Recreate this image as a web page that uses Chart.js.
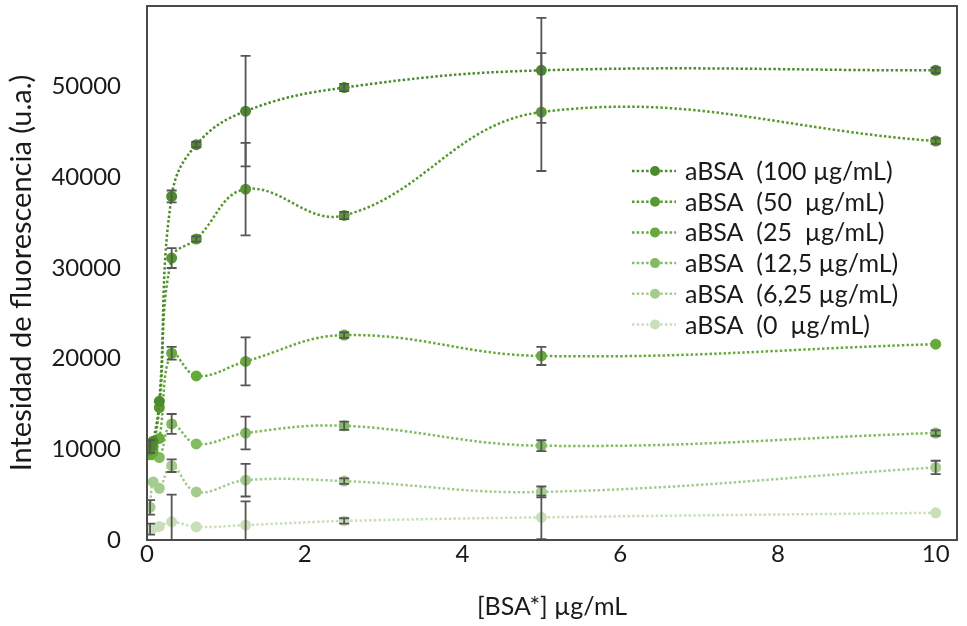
<!DOCTYPE html>
<html>
<head>
<meta charset="utf-8">
<script src="https://cdn.jsdelivr.net/npm/chart.js@4"></script>
<style>
  html, body { margin: 0; padding: 0; background: #fff; }
  #wrap { width: 967px; height: 626px; }
</style>
</head>
<body>
<div id="wrap"><canvas id="fluoChart" width="967" height="626"></canvas></div>
<script>
// concentracion de BSA* (µg/mL)
const bsaConc = [0.0390625, 0.078125, 0.15625, 0.3125, 0.625, 1.25, 2.5, 5, 10];

const seriesLabels = [
    'aBSA  (100 µg/mL)',
    'aBSA  (50  µg/mL)',
    'aBSA  (25  µg/mL)',
    'aBSA  (12,5 µg/mL)',
    'aBSA  (6,25 µg/mL)',
    'aBSA  (0  µg/mL)'
];

const aBSA100 = [10300, 10900, 15300, 37900, 43600, 47300, 49900, 51800, 51800];
const aBSA50  = [9900, 10300, 14600, 31100, 33200, 38700, 35800, 47200, 44000];
const aBSA25  = [9400, 9700, 11200, 20600, 18100, 19700, 22600, 20300, 21600];
const aBSA12  = [9700, 9400, 9100, 12800, 10600, 11800, 12600, 10400, 11800];
const aBSA6   = [3600, 6400, 5700, 8200, 5300, 6600, 6500, 5300, 8000];
const aBSA0   = [1200, 1300, 1500, 2000, 1450, 1650, 2100, 2500, 3000];

// desviaciones (barras de error)
const err100 = [700, 0, 0, 650, 300, 6100, 400, 5800, 300];
const err50  = [0, 0, 0, 1100, 300, 5100, 400, 6500, 300];
const err25  = [0, 0, 0, 700, 0, 2650, 300, 1000, 0];
const err12  = [0, 0, 0, 1100, 0, 1800, 450, 600, 300];
const err6   = [800, 0, 0, 700, 0, 1800, 300, 600, 740];
const err0   = [600, 0, 0, 3000, 0, 2600, 300, 2400, 0];

const yTicks = [0, 10000, 20000, 30000, 40000, 50000];
const xTicks = [0, 2, 4, 6, 8, 10];

const colors = ['#4c8a2c', '#58992f', '#67aa3c', '#82bb62', '#a5cc8f', '#c8dfba'];

const allValues = [aBSA100, aBSA50, aBSA25, aBSA12, aBSA6, aBSA0];
const allErrors = [err100, err50, err25, err12, err6, err0];

const FONT = 'Lato, "Open Sans", sans-serif';

const errorBars = {
    id: 'errorBars',
    afterDatasetsDraw(chart) {
        const ctx = chart.ctx;
        const area = chart.chartArea;
        const y = chart.scales.y;
        ctx.save();
        ctx.beginPath();
        ctx.rect(area.left, area.top, area.right - area.left, area.bottom - area.top);
        ctx.clip();
        ctx.strokeStyle = '#555555';
        ctx.lineWidth = 1.8;
        chart.data.datasets.forEach((ds, d) => {
            const meta = chart.getDatasetMeta(d);
            meta.data.forEach((pt, i) => {
                const e = allErrors[d][i];
                if (!e) return;
                const v = allValues[d][i];
                const yTop = y.getPixelForValue(v + e);
                const yBot = y.getPixelForValue(v - e);
                ctx.beginPath();
                ctx.moveTo(pt.x, yTop);
                ctx.lineTo(pt.x, yBot);
                ctx.moveTo(pt.x - 5, yTop);
                ctx.lineTo(pt.x + 5, yTop);
                ctx.moveTo(pt.x - 5, yBot);
                ctx.lineTo(pt.x + 5, yBot);
                ctx.stroke();
            });
        });
        ctx.restore();
    }
};

const frameAndLegend = {
    id: 'frameAndLegend',
    afterDraw(chart) {
        const ctx = chart.ctx;
        const a = chart.chartArea;
        ctx.save();
        ctx.strokeStyle = '#4a4a4a';
        ctx.lineWidth = 2;
        ctx.strokeRect(a.left, a.top, a.right - a.left, a.bottom - a.top);

        // leyenda
        const x0 = 632, x1 = 676, xm = 655, xt = 685;
        let yy = 171;
        chart.data.datasets.forEach((ds, d) => {
            ctx.strokeStyle = colors[d];
            ctx.lineWidth = 2.5;
            ctx.setLineDash([2.5, 2.2]);
            ctx.beginPath();
            ctx.moveTo(x0, yy);
            ctx.lineTo(x1, yy);
            ctx.stroke();
            ctx.setLineDash([]);
            ctx.fillStyle = colors[d];
            ctx.beginPath();
            ctx.arc(xm, yy, 5, 0, Math.PI * 2);
            ctx.fill();
            ctx.fillStyle = '#1a1a1a';
            ctx.font = '25px ' + FONT;
            ctx.textBaseline = 'middle';
            ctx.fillText(ds.label, xt, yy + 1);
            yy += 30.7;
        });
        ctx.restore();
    }
};

const datasets = allValues.map((vals, d) => ({
    label: seriesLabels[d],
    data: bsaConc.map((c, i) => ({ x: c, y: vals[i] })),
    borderColor: colors[d],
    backgroundColor: colors[d],
    borderWidth: 2.5,
    borderDash: [2.5, 2.2],
    pointRadius: 5.5,
    pointBorderWidth: 0,
    pointBackgroundColor: colors[d],
    tension: 0.4,
    fill: false
}));

new Chart(document.getElementById('fluoChart').getContext('2d'), {
    type: 'line',
    data: { datasets: datasets },
    plugins: [errorBars, frameAndLegend],
    options: {
        responsive: false,
        animation: false,
        layout: { padding: { left: 0, right: 10, top: 6, bottom: 0 } },
        plugins: {
            legend: { display: false },
            tooltip: { enabled: false }
        },
        scales: {
            x: {
                type: 'linear',
                min: 0,
                max: 10.27,
                afterFit: (s) => { s.height = 86; s.paddingLeft = 0; s.paddingRight = 0; },
                afterBuildTicks: (s) => { s.ticks = xTicks.map(v => ({ value: v })); },
                grid: { display: false, drawTicks: false },
                border: { display: false },
                ticks: {
                    padding: 0,
                    color: '#1a1a1a',
                    font: { family: FONT, size: 24 },
                    callback: (v) => String(v)
                },
                title: {
                    display: true,
                    text: '[BSA*] µg/mL',
                    color: '#1a1a1a',
                    font: { family: FONT, size: 25 },
                    padding: { top: 14 }
                }
            },
            y: {
                min: 0,
                max: 58900,
                afterFit: (s) => { s.width = 147; s.paddingTop = 0; s.paddingBottom = 0; },
                afterBuildTicks: (s) => { s.ticks = yTicks.map(v => ({ value: v })); },
                grid: { display: false, drawTicks: false },
                border: { display: false },
                ticks: {
                    padding: 26,
                    color: '#1a1a1a',
                    font: { family: FONT, size: 24 },
                    callback: (v) => String(v)
                },
                title: {
                    display: true,
                    text: 'Intesidad de fluorescencia (u.a.)',
                    color: '#1a1a1a',
                    font: { family: FONT, size: 29 },
                    padding: { top: 4 }
                }
            }
        }
    }
});
</script>
</body>
</html>
